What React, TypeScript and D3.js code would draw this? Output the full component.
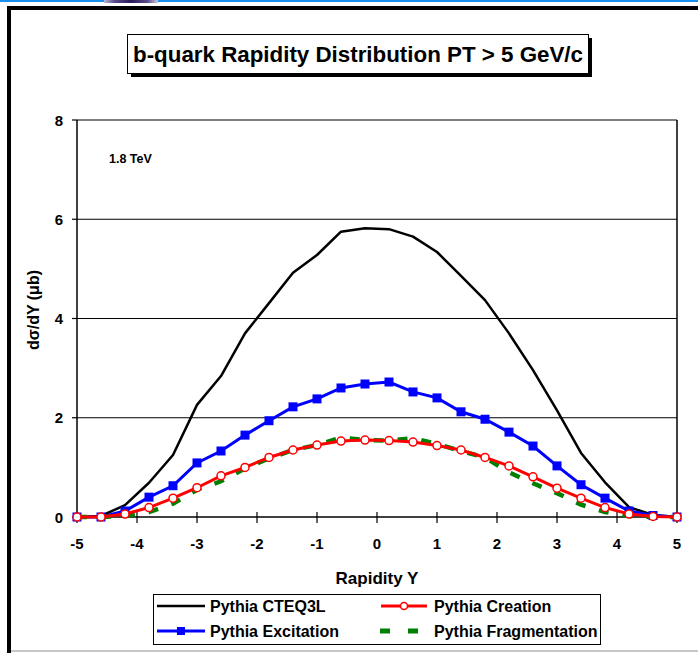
import React from "react";
import * as d3 from "d3";

const rapidity = [-5, -4.6, -4.2, -3.8, -3.4, -3.0, -2.6, -2.2, -1.8, -1.4, -1.0, -0.6, -0.2, 0.2, 0.6, 1.0, 1.4, 1.8, 2.2, 2.6, 3.0, 3.4, 3.8, 4.2, 4.6, 5.0];
const cteq3l = [0, 0.02, 0.24, 0.69, 1.25, 2.26, 2.84, 3.7, 4.31, 4.92, 5.28, 5.75, 5.82, 5.8, 5.65, 5.34, 4.86, 4.37, 3.7, 2.96, 2.15, 1.29, 0.7, 0.2, 0.04, 0];
const excitation = [0, 0, 0.12, 0.4, 0.63, 1.09, 1.33, 1.65, 1.94, 2.22, 2.38, 2.6, 2.68, 2.72, 2.52, 2.4, 2.12, 1.97, 1.71, 1.43, 1.03, 0.65, 0.38, 0.12, 0.03, 0];
const creation = [0, 0, 0.06, 0.19, 0.38, 0.59, 0.83, 1.0, 1.2, 1.35, 1.45, 1.53, 1.55, 1.54, 1.51, 1.44, 1.35, 1.2, 1.03, 0.81, 0.58, 0.38, 0.19, 0.06, 0.01, 0];
const fragmentation = [0, 0, 0.02, 0.1, 0.27, 0.55, 0.72, 0.98, 1.18, 1.35, 1.45, 1.6, 1.55, 1.54, 1.59, 1.47, 1.33, 1.2, 0.9, 0.68, 0.48, 0.25, 0.1, 0.02, 0, 0];
const xTicks = [-5, -4, -3, -2, -1, 0, 1, 2, 3, 4, 5];
const yTicks = [0, 2, 4, 6, 8];
const seriesNames = ["Pythia CTEQ3L", "Pythia Creation", "Pythia Excitation", "Pythia Fragmentation"];
const titleText = "b-quark Rapidity Distribution PT > 5 GeV/c";
const energyLabel = "1.8 TeV";
const xTitle = "Rapidity Y";
const yTitle = "dσ/dY (μb)";

const FONT = "Arial, 'Liberation Sans', sans-serif";

export default function App() {
  const x = d3.scaleLinear().domain([-5, 5]).range([77, 677]);
  const y = d3.scaleLinear().domain([0, 8]).range([517, 120]);
  const line = (vals: number[]) =>
    d3.line<number>().x((_, i) => x(rapidity[i])).y((v) => y(v))(vals) || "";

  return (
    <svg width={698} height={653} style={{ position: "absolute", left: 0, top: 0, background: "#fff" }} fontFamily={FONT}>
      <defs>
        <linearGradient id="thumb" x1="0" x2="1" y1="0" y2="0">
          <stop offset="0" stopColor="#b8b8d8" />
          <stop offset="0.2" stopColor="#5a4a8a" />
          <stop offset="0.5" stopColor="#2a1a5a" />
          <stop offset="0.8" stopColor="#5a4a8a" />
          <stop offset="1" stopColor="#c8c8e0" />
        </linearGradient>
      </defs>
      <rect x={0} y={0} width={698} height={653} fill="#fff" />
      {/* top strip */}
      <rect x={0} y={0} width={698} height={2} fill="#1890f0" />
      <rect x={104} y={0} width={54} height={3} fill="url(#thumb)" />
      {/* outer frame */}
      <rect x={7} y={6} width={691} height={4} fill="#000" />
      <rect x={7} y={6} width={4} height={647} fill="#000" />
      <rect x={11} y={650} width={687} height={2} fill="#c8c8c8" />

      {/* title box */}
      <rect x={131} y={38} width={461} height={39} fill="#000" />
      <rect x={127.5} y={34.5} width={461} height={39} fill="#fff" stroke="#000" strokeWidth={1} />
      <text x={358} y={62} textAnchor="middle" fontSize={22} fontWeight="bold" textLength={450} lengthAdjust="spacingAndGlyphs">{titleText}</text>

      {/* gridlines */}
      {yTicks.filter((t) => t > 0).map((t) => (
        <line key={t} x1={77} x2={677} y1={y(t)} y2={y(t)} stroke="#000" strokeWidth={1.2} />
      ))}
      {/* plot frame */}
      <line x1={677} x2={677} y1={120} y2={517} stroke="#000" strokeWidth={1.5} />
      <line x1={77} x2={77} y1={120} y2={517} stroke="#000" strokeWidth={1.5} />
      <line x1={77} x2={677} y1={517} y2={517} stroke="#000" strokeWidth={1.5} />
      {/* y ticks */}
      {yTicks.map((t) => (
        <g key={t}>
          <line x1={72} x2={77} y1={y(t)} y2={y(t)} stroke="#000" strokeWidth={1.2} />
          <text x={63} y={y(t) + 5.5} textAnchor="end" fontSize={15} fontWeight="bold">{t}</text>
        </g>
      ))}
      {/* x ticks */}
      {xTicks.map((t) => (
        <g key={t}>
          <line x1={x(t)} x2={x(t)} y1={512} y2={523} stroke="#000" strokeWidth={1.2} />
          <text x={x(t)} y={549} textAnchor="middle" fontSize={15} fontWeight="bold">{t}</text>
        </g>
      ))}

      <text transform={`translate(39,${310}) rotate(-90)`} textAnchor="middle" fontSize={16} fontWeight="bold" x={0} y={0}>{yTitle}</text>
      <text x={377} y={584} textAnchor="middle" fontSize={17} fontWeight="bold">{xTitle}</text>
      <text x={109} y={163} fontSize={12.5} fontWeight="bold">{energyLabel}</text>

      {/* series */}
      <path d={line(cteq3l)} fill="none" stroke="#000" strokeWidth={2.5} strokeLinejoin="round" />
      <path d={line(excitation)} fill="none" stroke="#0000ff" strokeWidth={3} />
      {excitation.map((v, i) => (
        <rect key={i} x={x(rapidity[i]) - 4.5} y={y(v) - 4.5} width={9} height={9} fill="#0000ff" />
      ))}
      <path d={line(fragmentation)} fill="none" stroke="#008000" strokeWidth={4.5} strokeDasharray="10 14" />
      <path d={line(creation)} fill="none" stroke="#ff0000" strokeWidth={3} />
      {creation.map((v, i) => (
        <circle key={i} cx={x(rapidity[i])} cy={y(v)} r={4} fill="#fff" stroke="#ff0000" strokeWidth={1.5} />
      ))}

      {/* legend */}
      <rect x={153.5} y={594.5} width={447} height={50} fill="#fff" stroke="#000" strokeWidth={1} />
      <line x1={157} x2={205} y1={606} y2={606} stroke="#000" strokeWidth={2.5} />
      <text x={210} y={612} fontSize={16} fontWeight="bold">{seriesNames[0]}</text>
      <line x1={381} x2={427} y1={606} y2={606} stroke="#ff0000" strokeWidth={3} />
      <circle cx={404} cy={606} r={3.5} fill="#fff" stroke="#ff0000" strokeWidth={1.5} />
      <text x={434} y={612} fontSize={16} fontWeight="bold">{seriesNames[1]}</text>
      <line x1={157} x2={205} y1={631} y2={631} stroke="#0000ff" strokeWidth={3} />
      <rect x={177} y={627} width={8} height={8} fill="#0000ff" />
      <text x={210} y={637} fontSize={16} fontWeight="bold">{seriesNames[2]}</text>
      <rect x={380} y={628.5} width={10} height={5} fill="#008000" />
      <rect x={408} y={628.5} width={10} height={5} fill="#008000" />
      <text x={434} y={637} fontSize={16} fontWeight="bold">{seriesNames[3]}</text>
    </svg>
  );
}
